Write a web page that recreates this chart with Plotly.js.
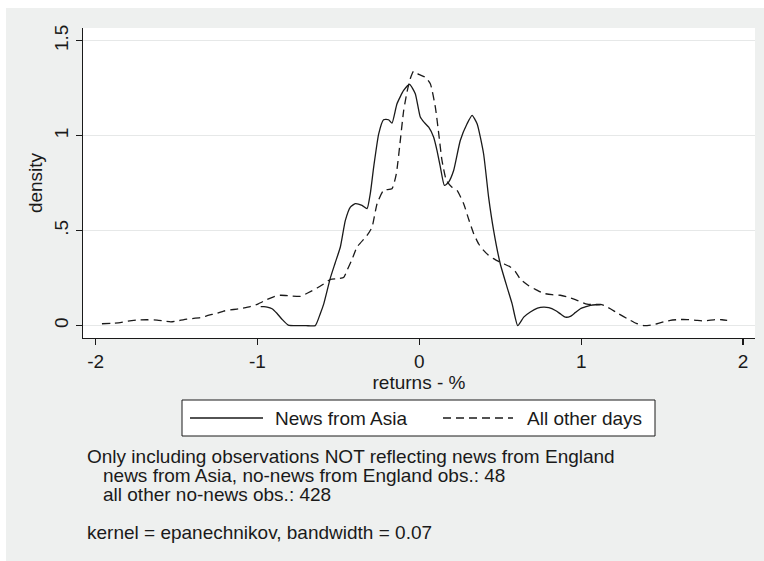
<!DOCTYPE html>
<html>
<head>
<meta charset="utf-8">
<script src="https://cdn.plot.ly/plotly-3.0.1.min.js"></script>
<style>
  html, body { margin: 0; padding: 0; background: #ffffff; }
  #chart { position: absolute; left: 6px; top: 8px; width: 758px; height: 553px; }
</style>
</head>
<body>
<div id="chart"></div>
<script>
// ---- data (kernel density estimates) ----
const seriesNames = ["News from Asia", "All other days"];

const asiaX = [-0.98, -0.96, -0.94, -0.91, -0.88, -0.85, -0.81, -0.75, -0.70, -0.643,
               -0.612, -0.59, -0.55, -0.52, -0.488, -0.457, -0.426, -0.396, -0.354, -0.323,
               -0.303, -0.282, -0.251, -0.221, -0.19, -0.169, -0.138, -0.097, -0.06, -0.025,
               0.006, 0.03, 0.058, 0.088, 0.109, 0.13, 0.155, 0.181, 0.212, 0.253,
               0.295, 0.326, 0.357, 0.397, 0.428, 0.459, 0.50, 0.542, 0.573, 0.608,
               0.645, 0.686, 0.73, 0.768, 0.80, 0.841, 0.875, 0.902, 0.933, 0.965,
               0.995, 1.03, 1.057, 1.09, 1.12];
const asiaY = [0.10, 0.10, 0.098, 0.089, 0.065, 0.035, 0.003, 0, 0, 0,
               0.063, 0.116, 0.25, 0.33, 0.414, 0.554, 0.624, 0.642, 0.633, 0.616,
               0.695, 0.835, 1.01, 1.084, 1.084, 1.066, 1.168, 1.238, 1.27, 1.221,
               1.098, 1.07, 1.045, 0.993, 0.923, 0.835, 0.738, 0.756, 0.817, 0.975,
               1.063, 1.107, 1.063, 0.905, 0.677, 0.502, 0.326, 0.203, 0.116, 0,
               0.045, 0.072, 0.092, 0.098, 0.095, 0.08, 0.06, 0.045, 0.049, 0.07,
               0.089, 0.10, 0.107, 0.11, 0.11];

const otherX = [-1.961, -1.90, -1.848, -1.80, -1.745, -1.68, -1.621, -1.575, -1.535, -1.49,
                -1.436, -1.354, -1.30, -1.25, -1.209, -1.148, -1.106, -1.045, -0.995, -0.941,
                -0.90, -0.859, -0.797, -0.735, -0.69, -0.632, -0.59, -0.55, -0.499, -0.468,
                -0.447, -0.415, -0.385, -0.323, -0.292, -0.261, -0.221, -0.169, -0.142, -0.122,
                -0.097, -0.076, -0.056, -0.035, -0.004, 0.037, 0.068, 0.099, 0.12, 0.14,
                0.167, 0.20, 0.233, 0.274, 0.305, 0.336, 0.367, 0.397, 0.428, 0.459,
                0.49, 0.521, 0.562, 0.593, 0.624, 0.676, 0.72, 0.768, 0.82, 0.871,
                0.92, 0.964, 1.036, 1.08, 1.119, 1.15, 1.18, 1.23, 1.284, 1.34,
                1.387, 1.43, 1.469, 1.51, 1.551, 1.60, 1.655, 1.71, 1.757, 1.80,
                1.84, 1.87, 1.902];
const otherY = [0.01, 0.012, 0.016, 0.024, 0.03, 0.031, 0.029, 0.024, 0.02, 0.026,
                0.034, 0.042, 0.055, 0.065, 0.077, 0.085, 0.09, 0.10, 0.115, 0.138,
                0.152, 0.16, 0.157, 0.154, 0.172, 0.198, 0.22, 0.243, 0.248, 0.253,
                0.29, 0.35, 0.414, 0.475, 0.519, 0.642, 0.712, 0.721, 0.80, 0.94,
                1.13, 1.23, 1.30, 1.34, 1.323, 1.308, 1.274, 1.15, 1.01, 0.87,
                0.765, 0.73, 0.712, 0.642, 0.56, 0.484, 0.43, 0.396, 0.37, 0.353,
                0.338, 0.326, 0.309, 0.285, 0.245, 0.21, 0.19, 0.17, 0.163, 0.16,
                0.15, 0.137, 0.113, 0.111, 0.112, 0.103, 0.089, 0.063, 0.037, 0.012,
                0.0, 0.003, 0.01, 0.02, 0.028, 0.032, 0.032, 0.028, 0.025, 0.029,
                0.032, 0.031, 0.028];

const xTickVals = [-2, -1, 0, 1, 2];
const xTickText = ["-2", "-1", "0", "1", "2"];
const yTickVals = [0, 0.5, 1, 1.5];
const yTickText = ["0", ".5", "1", "1.5"];

const xTitle = "returns - %";
const yTitle = "density";
const noteLines = [
  "Only including observations NOT reflecting news from England",
  "news from Asia, no-news from England obs.: 48",
  "all other no-news obs.: 428",
  "kernel = epanechnikov, bandwidth = 0.07"
];

// ---- layout helpers (page pixel -> paper coordinates) ----
const DIV_L = 6, DIV_T = 8;
const M = { l: 77, r: 9, t: 20, b: 223 };
const PW = 758 - M.l - M.r, PH = 553 - M.t - M.b;
const px = X => (X - DIV_L - M.l) / PW;
const py = Y => (M.t + PH - (Y - DIV_T)) / PH;

const FONT = '"Liberation Sans", Arial, Helvetica, sans-serif';
const INK = '#1a1a1a';
const FS = 19;

const traces = [
  { x: asiaX, y: asiaY, name: seriesNames[0], type: 'scatter', mode: 'lines',
    line: { color: INK, width: 1.3, shape: 'spline', smoothing: 0.5 }, hoverinfo: 'x+y' },
  { x: otherX, y: otherY, name: seriesNames[1], type: 'scatter', mode: 'lines',
    line: { color: INK, width: 1.3, dash: '8px,5px', shape: 'spline', smoothing: 0.5 }, hoverinfo: 'x+y' }
];

// legend drawn as decoration (long Stata-style samples)
const shapes = [
  { type: 'rect', xref: 'paper', yref: 'paper', x0: px(182), x1: px(655), y0: py(436), y1: py(400),
    line: { color: INK, width: 1 }, fillcolor: '#ffffff', layer: 'above' },
  { type: 'line', xref: 'paper', yref: 'paper', x0: px(190), x1: px(263), y0: py(418), y1: py(418),
    line: { color: INK, width: 1.3 } },
  { type: 'line', xref: 'paper', yref: 'paper', x0: px(443), x1: px(513), y0: py(418), y1: py(418),
    line: { color: INK, width: 1.3, dash: '8px,5px' } }
];

const ann = (text, X, Y, size) => ({
  text: text, xref: 'paper', yref: 'paper', x: px(X), y: py(Y),
  xanchor: 'left', yanchor: 'middle', showarrow: false,
  font: { family: FONT, size: size, color: INK }
});

const annotations = [
  ann(seriesNames[0], 273, 418, FS),
  ann(seriesNames[1], 525, 418, FS),
  ann(noteLines[0], 85, 456, FS),
  ann(noteLines[1], 101, 475, FS),
  ann(noteLines[2], 101, 494, FS),
  ann(noteLines[3], 85, 532, FS)
];

const layout = {
  width: 758, height: 553,
  margin: M,
  paper_bgcolor: '#eef0ef',
  plot_bgcolor: '#ffffff',
  showlegend: false,
  font: { family: FONT, size: FS, color: INK },
  xaxis: {
    range: [-2.078, 2.074], tickvals: xTickVals, ticktext: xTickText,
    showgrid: false, zeroline: false, showline: true, linecolor: INK, linewidth: 1.2,
    ticks: 'outside', ticklen: 6, tickwidth: 1.2, tickcolor: INK,
    tickfont: { family: FONT, size: FS, color: INK },
    title: { text: xTitle, font: { family: FONT, size: FS, color: INK }, standoff: 2 }
  },
  yaxis: {
    range: [-0.065, 1.567], tickvals: yTickVals, ticktext: yTickText, tickangle: -90,
    showgrid: true, gridcolor: '#e6e8e8', gridwidth: 1.2, zeroline: false,
    showline: true, linecolor: INK, linewidth: 1.2,
    ticks: 'outside', ticklen: 6, tickwidth: 1.2, tickcolor: INK,
    tickfont: { family: FONT, size: FS, color: INK },
    title: { text: yTitle, font: { family: FONT, size: FS, color: INK }, standoff: 3 }
  },
  shapes: shapes,
  annotations: annotations
};

Plotly.newPlot('chart', traces, layout, { staticPlot: true, displayModeBar: false });
</script>
</body>
</html>
